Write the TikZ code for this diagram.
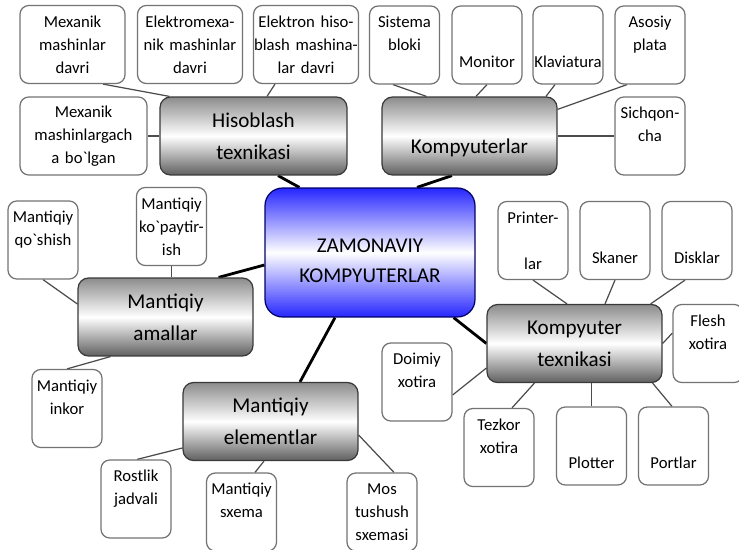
\documentclass[tikz,border=0pt]{standalone}
\usepackage{fontspec}
\setmainfont{Carlito}
\usetikzlibrary{calc, positioning, backgrounds}
\newcommand{\grv}{\textasciigrave}
\tikzset{
  leafbox/.style={
    draw=gray!90!black, rounded corners=5pt, line width=0.7pt,
    fill=white, align=center, inner sep=0pt,
    minimum width=1.4cm, minimum height=1.56cm, text width=1.4cm,
    font=\fontsize{9.5}{13}\selectfont
  },
  leafwide/.style={
    leafbox, minimum width=2.1cm, text width=2.1cm
  },
  hubbox/.style={
    draw=gray!45!black, rounded corners=6pt, line width=0.7pt,
    top color=gray!90, bottom color=gray!75!black, middle color=white,
    align=center, minimum width=3.5cm, minimum height=1.56cm,
    font=\fontsize{12}{18}\selectfont
  },
  corebox/.style={
    draw=blue!40!black, rounded corners=10pt, line width=0.7pt,
    top color=blue!85, bottom color=blue!85, middle color=white,
    align=center, minimum width=4.2cm, minimum height=2.58cm,
    font=\fontsize{12}{17}\selectfont
  },
  leafline/.style={draw=gray!60!black, line width=0.7pt},
  hubline/.style={draw=black, line width=1.6pt},
}

\begin{document}
\begin{tikzpicture}[x=0.02cm, y=-0.02cm]
  \useasboundingbox (0,0) rectangle (739,550);

  % Centre and hubs
  \node[corebox] (zamon) at (370,252.5) {~\\ZAMONAVIY\\KOMPYUTERLAR};
  \node[hubbox, minimum width=3.74cm] (hisob) at (253.5,136)
    {Hisoblash\\texnikasi};
  \node[hubbox] (komp) at (469.5,136) {~\\[4pt]Kompyuterlar};
  \node[hubbox] (amal) at (165.5,317) {Mantiqiy\\amallar};
  \node[hubbox] (elem) at (270.5,421.5) {Mantiqiy\\elementlar};
  \node[hubbox] (tex) at (574.5,343.5) {Kompyuter\\texnikasi};

  % Hisoblash texnikasi
  \node[leafwide] (mmd) at (72.5,44.5) {Mexanik\\mashinlar\\davri};
  \node[leafwide] (ele) at (190,44.5) {Elektromexa-\\nik mashinlar\\davri};
  \node[leafwide] (ehm) at (306,44.5)
    {Elektron hiso-\\blash mashina-\\lar davri};
  \node[leafwide, minimum width=2.54cm, text width=2.54cm] (mmg)
    at (83.5,136) {Mexanik\\mashinlargach\\a bo\grv lgan};

  % Kompyuterlar
  \node[leafbox] (sist) at (404.5,45) {Sistema\\bloki\\~};
  \node[leafbox] (mon) at (487,45) {~\\~\\Monitor};
  \node[leafbox] (klav) at (568,45) {~\\~\\Klaviatura};
  \node[leafbox] (asos) at (650,45) {Asosiy\\plata\\~};
  \node[leafbox] (sich) at (650,136) {Sichqon-\\cha\\~};

  % Mantiqiy amallar
  \node[leafbox] (qosh) at (43,240) {Mantiqiy\\qo\grv shish\\~};
  \node[leafbox] (kop) at (171.5,226.5) {Mantiqiy\\ko\grv paytir-\\ish};
  \node[leafbox] (inkor) at (67,408.5) {Mantiqiy\\inkor\\~};

  % Mantiqiy elementlar
  \node[leafbox] (rost) at (136,499) {Rostlik\\jadvali\\~};
  \node[leafbox] (sxema) at (241.5,512) {Mantiqiy\\sxema\\~};
  \node[leafbox] (mos) at (382,512) {Mos\\tushush\\sxemasi};

  % Kompyuter texnikasi
  \node[leafbox] (prin) at (533,240.5) {Printer-\\~\\lar};
  \node[leafbox] (skan) at (615,240.5) {~\\~\\Skaner};
  \node[leafbox] (disk) at (697,240.5) {~\\~\\Disklar};
  \node[leafbox] (flesh) at (708,343.5) {Flesh\\xotira\\~};
  \node[leafbox] (doim) at (417,382) {Doimiy\\xotira\\~};
  \node[leafbox] (tez) at (499,447.5) {Tezkor\\xotira\\~};
  \node[leafbox] (plot) at (591.5,446) {~\\~\\Plotter};
  \node[leafbox] (port) at (673.5,446) {~\\~\\Portlar};

  \begin{scope}[on background layer]
    % Hubs to centre
    \draw[hubline] ($(hisob.south)+(24.5,0)$) -- ($(zamon.north west)+(35,0)$);
    \draw[hubline] ($(komp.south)+(-17.5,0)$) -- ($(zamon.north)+(47,0)$);
    \draw[hubline] ($(amal.north east)+(-35,0)$) -- ($(zamon.west)+(0,12.5)$);
    \draw[hubline] ($(elem.north)+(29.5,0)$) -- ($(zamon.south)+(-35,0)$);
    \draw[hubline] ($(zamon.south east)+(-22,0)$) -- (tex.west);

    % Leaves
    \draw[leafline] ($(mmd.south)+(30.5,0)$) -- ($(hisob.north west)+(10,0)$);
    \draw[leafline] ($(ehm.south)+(-31,0)$) -- ($(hisob.north)+(13.5,0)$);
    \draw[leafline] (mmg.east) -- (hisob.west);

    \draw[leafline] ($(sist.south)+(-11.5,0)$) -- ($(komp.north west)+(45,0)$);
    \draw[leafline] (mon.south) -- ($(komp.north)+(6.5,0)$);
    \draw[leafline] ($(klav.south)+(-13,0)$) -- ($(komp.north)+(76.5,0)$);
    \draw[leafline] ($(asos.south)+(-23,0)$) -- ($(komp.north east)+(0,13)$);
    \draw[leafline] (sich.west) -- (komp.east);

    \draw[leafline] (qosh.south) -- ($(amal.west)+(0,-13)$);
    \draw[leafline] (kop.south) -- (kop.south |- amal.north);
    \draw[leafline] ($(amal.south west)+(33,0)$) -- (inkor.north);

    \draw[leafline] ($(rost.north)+(1,0)$) -- ($(elem.west)+(0,26.5)$);
    \draw[leafline] ($(sxema.north)+(13.5,0)$) -- ($(elem.south)+(-6.5,0)$);
    \draw[leafline] ($(mos.north)+(12,0)$) -- ($(elem.east)+(0,13.5)$);

    \draw[leafline] (prin.south) -- ($(tex.north)+(-7.5,0)$);
    \draw[leafline] (skan.south) -- ($(tex.north)+(30.5,0)$);
    \draw[leafline] ($(disk.south)+(-12,0)$) -- ($(tex.north east)+(-12,0)$);
    \draw[leafline] ($(flesh.west)+(0,-10.5)$) -- (tex.east);
    \draw[leafline] ($(doim.east)+(0,13)$) -- ($(tex.west)+(0,24.5)$);
    \draw[leafline] ($(tez.north)+(13,0)$) -- ($(tex.south west)+(48,0)$);
    \draw[leafline] (plot.north) -- (plot.north |- tex.south);
    \draw[leafline] ($(port.north)+(-1.5,0)$) -- ($(tex.south east)+(-10,0)$);
  \end{scope}
\end{tikzpicture}
\end{document}
